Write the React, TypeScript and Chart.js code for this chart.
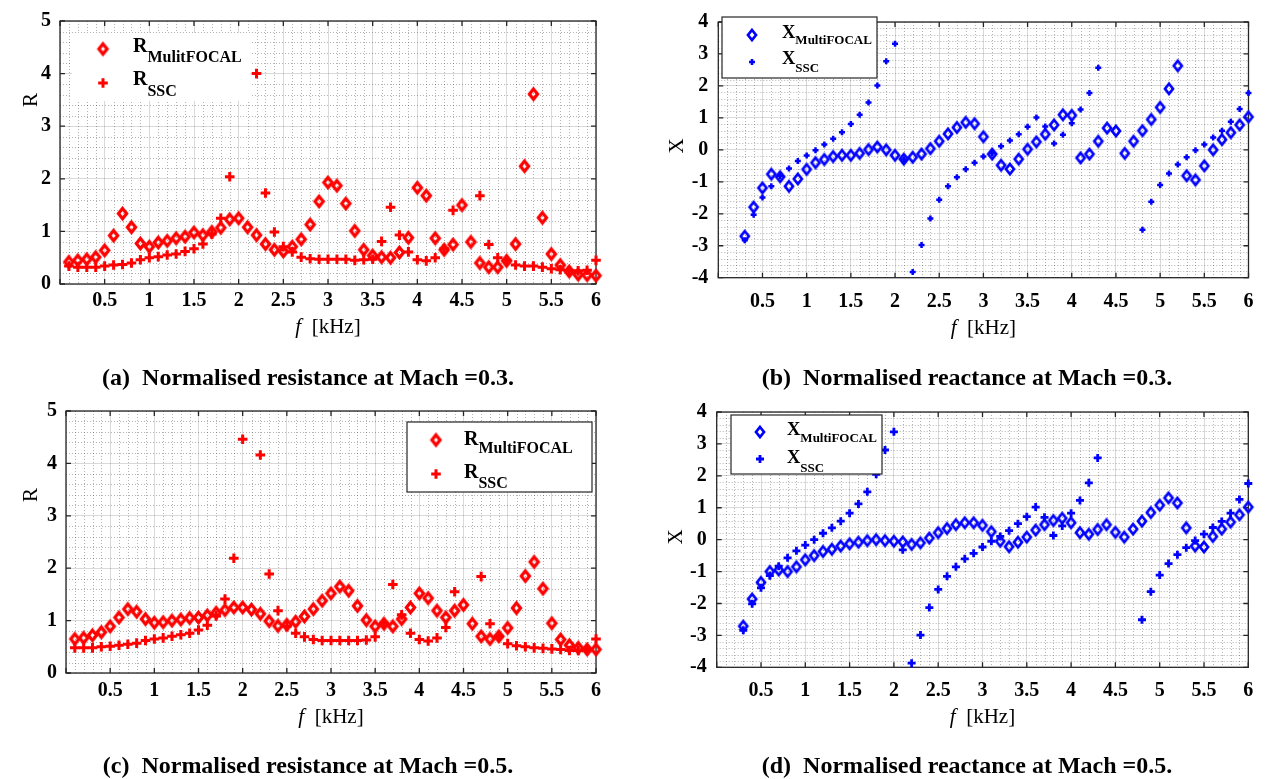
import React, { useEffect, useRef } from 'react';
import { Chart, registerables } from 'chart.js';

Chart.register(...registerables);

const SERIF = "'Liberation Serif', 'Times New Roman', serif";

// ---------- data ----------
const FREQ_R = [
  0.1, 0.2, 0.3, 0.4, 0.5, 0.6, 0.7, 0.8, 0.9, 1.0,
  1.1, 1.2, 1.3, 1.4, 1.5, 1.6, 1.7, 1.8, 1.9, 2.0,
  2.1, 2.2, 2.3, 2.4, 2.5, 2.6, 2.7, 2.8, 2.9, 3.0,
  3.1, 3.2, 3.3, 3.4, 3.5, 3.6, 3.7, 3.8, 3.9, 4.0,
  4.1, 4.2, 4.3, 4.4, 4.5, 4.6, 4.7, 4.8, 4.9, 5.0,
  5.1, 5.2, 5.3, 5.4, 5.5, 5.6, 5.7, 5.8, 5.9, 6.0,
];
const FREQ_X = [
  0.3, 0.4, 0.5, 0.6, 0.7, 0.8, 0.9, 1.0, 1.1, 1.2,
  1.3, 1.4, 1.5, 1.6, 1.7, 1.8, 1.9, 2.0, 2.1, 2.2,
  2.3, 2.4, 2.5, 2.6, 2.7, 2.8, 2.9, 3.0,
  3.1, 3.2, 3.3, 3.4, 3.5, 3.6, 3.7, 3.8, 3.9, 4.0,
  4.1, 4.2, 4.3, 4.4, 4.5, 4.6, 4.7, 4.8, 4.9, 5.0,
  5.1, 5.2, 5.3, 5.4, 5.5, 5.6, 5.7, 5.8, 5.9, 6.0,
];

const R_MULTIFOCAL_M03 = [
  0.42, 0.45, 0.47, 0.51, 0.64, 0.92, 1.34, 1.08, 0.77, 0.71,
  0.79, 0.82, 0.87, 0.90, 0.98, 0.93, 0.99, 1.07, 1.23, 1.25,
  1.08, 0.93, 0.76, 0.65, 0.62, 0.71, 0.85, 1.13, 1.57, 1.93,
  1.87, 1.53, 1.01, 0.65, 0.54, 0.51, 0.50, 0.60, 0.88, 1.83,
  1.68, 0.87, 0.65, 0.75, 1.50, 0.80, 0.40, 0.32, 0.32, 0.44,
  0.76, 2.24, 3.61, 1.26, 0.57, 0.36, 0.24, 0.18, 0.17, 0.16,
];
const R_SSC_M03 = [
  0.34, 0.32, 0.32, 0.32, 0.34, 0.36, 0.37, 0.40, 0.46, 0.50,
  0.52, 0.55, 0.57, 0.62, 0.67, 0.76, 0.95, 1.25, 2.04, null,
  null, 4.00, 1.73, 0.99, 0.71, 0.61, 0.51, 0.48, 0.47, 0.47,
  0.47, 0.47, 0.45, 0.46, 0.47, 0.81, 1.46, 0.93, 0.61, 0.46,
  0.44, 0.50, 0.67, 1.40, null, null, 1.68, 0.75, 0.50, 0.45,
  0.36, 0.34, 0.34, 0.32, 0.29, 0.27, 0.25, 0.25, 0.26, 0.45,
];
const X_MULTIFOCAL_M03 = [
  -2.70, -1.79, -1.19, -0.76, -0.84, -1.14, -0.91, -0.61, -0.40, -0.30,
  -0.21, -0.17, -0.17, -0.11, 0.01, 0.09, 0.00, -0.17, -0.29, -0.23,
  -0.13, 0.04, 0.27, 0.50, 0.70, 0.86, 0.82, 0.41,
  -0.13, -0.48, -0.60, -0.29, 0.02, 0.25, 0.49, 0.78, 1.10, 1.08,
  -0.25, -0.13, 0.27, 0.68, 0.59, -0.11, 0.27, 0.60, 0.95, 1.33,
  1.91, 2.63, -0.81, -0.94, -0.50, 0.00, 0.32, 0.54, 0.78, 1.03,
];
const X_SSC_M03 = [
  -2.83, -2.03, -1.49, -1.14, -0.82, -0.58, -0.35, -0.18, -0.01, 0.17,
  0.35, 0.55, 0.81, 1.10, 1.48, 2.01, 2.77, 3.32, -0.30, -3.82,
  -2.98, -2.15, -1.56, -1.14, -0.86, -0.61, -0.40, -0.21,
  -0.11, 0.11, 0.29, 0.49, 0.72, 1.01, 0.73, 0.20, 0.47, 0.83,
  1.26, 1.78, 2.57, null, null, null, null, -2.50, -1.62, -1.10,
  -0.74, -0.46, -0.23, -0.01, 0.17, 0.39, 0.60, 0.88, 1.28, 1.78,
];
const R_MULTIFOCAL_M05 = [
  0.65, 0.67, 0.72, 0.78, 0.89, 1.06, 1.22, 1.17, 1.03, 0.96,
  0.97, 1.00, 1.02, 1.05, 1.06, 1.10, 1.15, 1.20, 1.25, 1.25,
  1.21, 1.13, 0.99, 0.90, 0.92, 0.98, 1.08, 1.22, 1.38, 1.52,
  1.65, 1.57, 1.28, 1.01, 0.89, 0.94, 0.89, 1.03, 1.25, 1.52,
  1.43, 1.19, 1.06, 1.19, 1.30, 0.94, 0.70, 0.65, 0.70, 0.86,
  1.24, 1.85, 2.12, 1.61, 0.95, 0.64, 0.53, 0.48, 0.45, 0.45,
];
const R_SSC_M05 = [
  0.48, 0.48, 0.48, 0.50, 0.51, 0.53, 0.55, 0.57, 0.62, 0.65,
  0.67, 0.70, 0.73, 0.76, 0.82, 0.91, 1.09, 1.41, 2.19, 4.46,
  null, 4.16, 1.89, 1.19, 0.89, 0.76, 0.69, 0.64, 0.62, 0.62,
  0.62, 0.62, 0.62, 0.63, 0.69, 0.95, 1.69, 1.11, 0.76, 0.64,
  0.61, 0.67, 0.87, 1.55, null, null, 1.84, 0.94, 0.70, 0.56,
  0.52, 0.50, 0.48, 0.47, 0.46, 0.45, 0.43, 0.43, 0.45, 0.65,
];
const X_MULTIFOCAL_M05 = [
  -2.71, -1.86, -1.34, -1.00, -0.95, -1.00, -0.85, -0.63, -0.50, -0.37,
  -0.30, -0.20, -0.13, -0.08, -0.03, 0.00, -0.03, -0.05, -0.07, -0.15,
  -0.10, 0.05, 0.22, 0.35, 0.47, 0.53, 0.53, 0.45,
  0.25, -0.05, -0.22, -0.08, 0.08, 0.30, 0.47, 0.60, 0.67, 0.53,
  0.22, 0.17, 0.32, 0.47, 0.23, 0.08, 0.33, 0.58, 0.85, 1.08,
  1.31, 1.15, 0.37, -0.20, -0.23, 0.10, 0.33, 0.55, 0.78, 1.02,
];
const X_SSC_M05 = [
  -2.84, -2.01, -1.51, -1.13, -0.83, -0.57, -0.35, -0.17, 0.00, 0.20,
  0.37, 0.58, 0.83, 1.12, 1.50, 2.05, 2.81, 3.38, -0.32, -3.87,
  -2.99, -2.13, -1.56, -1.15, -0.85, -0.60, -0.43, -0.23,
  -0.05, 0.10, 0.28, 0.50, 0.72, 1.02, 0.70, 0.13, 0.43, 0.83,
  1.23, 1.78, 2.56, null, null, null, null, -2.51, -1.63, -1.11,
  -0.75, -0.47, -0.25, -0.03, 0.17, 0.38, 0.57, 0.83, 1.26, 1.76,
];

const F_TICKS = [0, 0.5, 1, 1.5, 2, 2.5, 3, 3.5, 4, 4.5, 5, 5.5, 6];
const R_TICKS = [0, 1, 2, 3, 4, 5];
const X_TICKS = [-4, -3, -2, -1, 0, 1, 2, 3, 4];

// ---------- panel layout ----------
type Box = { left: number; top: number; width: number; height: number };
type Area = { left: number; right: number; top: number; bottom: number };
type LegendItem = { kind: 'd' | 'p'; mx: number; my: number; main: string; sub: string; tx: number; base: number; subBase: number };
type Panel = {
  key: string;
  canvas: Box;
  area: Area;
  yTicks: number[];
  yMinor: number;
  color: string;
  freq: number[];
  diamond: (number | null)[];
  plus: (number | null)[];
  dLabel: string;
  pLabel: string;
  dHW: number; dHH: number; dBW: number; pR: number; pBW: number;
  xPad: number; yPad: number;
  yTitle: string; yTitleX: number; yTitleY: number;
  xTitleY: number;
  legendBox: { x: number; y: number; w: number; h: number; border: boolean };
  legendMain: number; legendSub: number;
  legendItems: LegendItem[];
  caption: string; captionX: number; captionY: number;
};

const PANELS: Panel[] = [
  {
    key: 'a',
    canvas: { left: 0, top: 0, width: 633, height: 345 },
    area: { left: 60, right: 596, top: 16.5, bottom: 284 },
    yTicks: R_TICKS, yMinor: 0.2, color: '#ff0000',
    freq: FREQ_R, diamond: R_MULTIFOCAL_M03, plus: R_SSC_M03,
    dLabel: 'R MulitFOCAL', pLabel: 'R SSC',
    dHW: 4.1, dHH: 5.1, dBW: 3.2, pR: 4.8, pBW: 3,
    xPad: 5, yPad: 9,
    yTitle: 'R', yTitleX: 31, yTitleY: 100, xTitleY: 327,
    legendBox: { x: 72, y: 33, w: 178, h: 68, border: false },
    legendMain: 20, legendSub: 16,
    legendItems: [
      { kind: 'd', mx: 103, my: 49, main: 'R', sub: 'MulitFOCAL', tx: 133, base: 52, subBase: 62 },
      { kind: 'p', mx: 103, my: 83, main: 'R', sub: 'SSC', tx: 133, base: 85, subBase: 96 },
    ],
    caption: '(a)  Normalised resistance at Mach =0.3.', captionX: 308, captionY: 377,
  },
  {
    key: 'b',
    canvas: { left: 633, top: 0, width: 634, height: 345 },
    area: { left: 718.3, right: 1248.5, top: 13.5, bottom: 277.7 },
    yTicks: X_TICKS, yMinor: 0.2, color: '#0000ff',
    freq: FREQ_X, diamond: X_MULTIFOCAL_M03, plus: X_SSC_M03,
    dLabel: 'X MultiFOCAL', pLabel: 'X SSC',
    dHW: 4.0, dHH: 5.0, dBW: 2.7, pR: 3, pBW: 2.5,
    xPad: 12, yPad: 10,
    yTitle: 'X', yTitleX: 677, yTitleY: 146, xTitleY: 328,
    legendBox: { x: 722, y: 17, w: 155, h: 61, border: true },
    legendMain: 18.5, legendSub: 13,
    legendItems: [
      { kind: 'd', mx: 752, my: 35, main: 'X', sub: 'MultiFOCAL', tx: 782, base: 37.5, subBase: 43.5 },
      { kind: 'p', mx: 752, my: 62, main: 'X', sub: 'SSC', tx: 782, base: 63.5, subBase: 71.5 },
    ],
    caption: '(b)  Normalised reactance at Mach =0.3.', captionX: 967, captionY: 377,
  },
  {
    key: 'c',
    canvas: { left: 0, top: 390, width: 633, height: 389 },
    area: { left: 66, right: 596, top: 408, bottom: 673 },
    yTicks: R_TICKS, yMinor: 0.2, color: '#ff0000',
    freq: FREQ_R, diamond: R_MULTIFOCAL_M05, plus: R_SSC_M05,
    dLabel: 'R MultiFOCAL', pLabel: 'R SSC',
    dHW: 4.1, dHH: 5.1, dBW: 3.2, pR: 4.8, pBW: 3,
    xPad: 6, yPad: 9,
    yTitle: 'R', yTitleX: 31, yTitleY: 495, xTitleY: 717,
    legendBox: { x: 407, y: 422, w: 185, h: 70, border: true },
    legendMain: 20, legendSub: 16,
    legendItems: [
      { kind: 'd', mx: 436, my: 440, main: 'R', sub: 'MultiFOCAL', tx: 464, base: 445, subBase: 453.3 },
      { kind: 'p', mx: 436, my: 474, main: 'R', sub: 'SSC', tx: 464, base: 478.3, subBase: 488.3 },
    ],
    caption: '(c)  Normalised resistance at Mach =0.5.', captionX: 308, captionY: 765,
  },
  {
    key: 'd',
    canvas: { left: 633, top: 390, width: 634, height: 389 },
    area: { left: 716.7, right: 1248.3, top: 403.3, bottom: 667.3 },
    yTicks: X_TICKS, yMinor: 0.2, color: '#0000ff',
    freq: FREQ_X, diamond: X_MULTIFOCAL_M05, plus: X_SSC_M05,
    dLabel: 'X MultiFOCAL', pLabel: 'X SSC',
    dHW: 4.0, dHH: 5.0, dBW: 2.7, pR: 4, pBW: 2.8,
    xPad: 12, yPad: 10,
    yTitle: 'X', yTitleX: 676, yTitleY: 537, xTitleY: 717,
    legendBox: { x: 731, y: 415, w: 151, h: 59, border: true },
    legendMain: 18.5, legendSub: 13,
    legendItems: [
      { kind: 'd', mx: 760, my: 432, main: 'X', sub: 'MultiFOCAL', tx: 787, base: 435, subBase: 442.3 },
      { kind: 'p', mx: 760, my: 459, main: 'X', sub: 'SSC', tx: 787, base: 462.7, subBase: 471.7 },
    ],
    caption: '(d)  Normalised reactance at Mach =0.5.', captionX: 967, captionY: 765,
  },
];

function toPoints(freq: number[], vals: (number | null)[]) {
  const pts: { x: number; y: number }[] = [];
  freq.forEach((f, i) => {
    const v = vals[i];
    if (v !== null && v !== undefined) pts.push({ x: f, y: v });
  });
  return pts;
}

// tall open diamond marker image (MATLAB 'd' style)
function makeDiamondImage(hw: number, hh: number, lw: number, color: string) {
  const pad = lw * 2 + 2;
  const w = Math.ceil(2 * hw + pad);
  const h = Math.ceil(2 * hh + pad);
  const c = document.createElement('canvas');
  c.width = w;
  c.height = h;
  const g = c.getContext('2d');
  if (g) {
    const cx = w / 2;
    const cy = h / 2;
    g.strokeStyle = color;
    g.lineWidth = lw;
    g.lineJoin = 'miter';
    g.beginPath();
    g.moveTo(cx, cy - hh);
    g.lineTo(cx + hw, cy);
    g.lineTo(cx, cy + hh);
    g.lineTo(cx - hw, cy);
    g.closePath();
    g.stroke();
  }
  return c;
}

function drawCross(ctx: CanvasRenderingContext2D, x: number, y: number, r: number, bw: number, color: string) {
  ctx.save();
  ctx.strokeStyle = color;
  ctx.lineWidth = bw;
  ctx.beginPath();
  ctx.moveTo(x - r, y);
  ctx.lineTo(x + r, y);
  ctx.moveTo(x, y - r);
  ctx.lineTo(x, y + r);
  ctx.stroke();
  ctx.restore();
}

function makeDecor(p: Panel, diamondImg: HTMLCanvasElement) {
  const ox = p.canvas.left;
  const oy = p.canvas.top;
  return {
    id: 'decor_' + p.key,
    beforeDatasetsDraw(chart: any) {
      const { ctx, chartArea: a, scales } = chart;
      const xs = scales.x;
      const ys = scales.y;
      ctx.save();
      // minor dotted grid
      ctx.beginPath();
      ctx.setLineDash([1, 2]);
      ctx.strokeStyle = 'rgba(0,0,0,0.3)';
      ctx.lineWidth = 1;
      for (let k = 1; k < 60; k++) {
        if (k % 5 === 0) continue;
        const px = Math.round(xs.getPixelForValue(k / 10)) + 0.5;
        ctx.moveTo(px, a.top);
        ctx.lineTo(px, a.bottom);
      }
      const y0 = p.yTicks[0];
      const y1 = p.yTicks[p.yTicks.length - 1];
      const n = Math.round((y1 - y0) / p.yMinor);
      for (let k = 1; k < n; k++) {
        const v = y0 + k * p.yMinor;
        if (Math.abs(v - Math.round(v)) < 1e-6) continue;
        const py = Math.round(ys.getPixelForValue(v)) + 0.5;
        ctx.moveTo(a.left, py);
        ctx.lineTo(a.right, py);
      }
      ctx.stroke();
      ctx.setLineDash([]);
      // box
      ctx.strokeStyle = '#262626';
      ctx.lineWidth = 1.3;
      ctx.strokeRect(a.left, a.top, a.right - a.left, a.bottom - a.top);
      // inward ticks
      ctx.beginPath();
      xs.ticks.forEach((t: any) => {
        const px = xs.getPixelForValue(t.value);
        ctx.moveTo(px, a.bottom);
        ctx.lineTo(px, a.bottom - 5);
        ctx.moveTo(px, a.top);
        ctx.lineTo(px, a.top + 5);
      });
      ys.ticks.forEach((t: any) => {
        const py = ys.getPixelForValue(t.value);
        ctx.moveTo(a.left, py);
        ctx.lineTo(a.left + 5, py);
        ctx.moveTo(a.right, py);
        ctx.lineTo(a.right - 5, py);
      });
      ctx.stroke();
      ctx.restore();
    },
    afterDatasetsDraw(chart: any) {
      const { ctx, chartArea: a } = chart;
      ctx.save();
      // legend
      const lb = p.legendBox;
      ctx.fillStyle = '#ffffff';
      ctx.fillRect(lb.x - ox, lb.y - oy, lb.w, lb.h);
      if (lb.border) {
        ctx.strokeStyle = '#262626';
        ctx.lineWidth = 1.2;
        ctx.strokeRect(lb.x - ox, lb.y - oy, lb.w, lb.h);
      }
      p.legendItems.forEach((it) => {
        if (it.kind === 'd') {
          ctx.drawImage(diamondImg, it.mx - ox - diamondImg.width / 2, it.my - oy - diamondImg.height / 2);
        } else {
          drawCross(ctx, it.mx - ox, it.my - oy, p.pR, p.pBW, p.color);
        }
        ctx.fillStyle = '#000000';
        ctx.textAlign = 'left';
        ctx.textBaseline = 'alphabetic';
        ctx.font = `bold ${p.legendMain}px ${SERIF}`;
        ctx.fillText(it.main, it.tx - ox, it.base - oy);
        const w = ctx.measureText(it.main).width;
        ctx.font = `bold ${p.legendSub}px ${SERIF}`;
        ctx.fillText(it.sub, it.tx - ox + w, it.subBase - oy);
      });
      // y title
      ctx.fillStyle = '#000000';
      ctx.save();
      ctx.translate(p.yTitleX - ox, p.yTitleY - oy);
      ctx.rotate(-Math.PI / 2);
      ctx.textAlign = 'center';
      ctx.textBaseline = 'middle';
      ctx.font = `21px ${SERIF}`;
      ctx.fillText(p.yTitle, 0, 0);
      ctx.restore();
      // x title: italic f + [kHz]
      const cx = (a.left + a.right) / 2;
      ctx.textBaseline = 'middle';
      ctx.textAlign = 'left';
      ctx.font = `italic 21px ${SERIF}`;
      const fW = ctx.measureText('f').width;
      ctx.font = `21px ${SERIF}`;
      const restTxt = '  [kHz]';
      const rW = ctx.measureText(restTxt).width;
      const start = cx - (fW + rW) / 2;
      ctx.font = `italic 21px ${SERIF}`;
      ctx.fillText('f', start, p.xTitleY - oy);
      ctx.font = `21px ${SERIF}`;
      ctx.fillText(restTxt, start + fW, p.xTitleY - oy);
      ctx.restore();
    },
  };
}

function PanelChart({ p }: { p: Panel }) {
  const ref = useRef<HTMLCanvasElement | null>(null);
  useEffect(() => {
    const canvas = ref.current;
    if (!canvas) return;
    const diamondImg = makeDiamondImage(p.dHW, p.dHH, p.dBW, p.color);
    const tickFont = { family: SERIF, size: 20, weight: 'bold' as const };
    const chart = new Chart(canvas, {
      type: 'scatter',
      data: {
        datasets: [
          {
            label: p.dLabel,
            data: toPoints(p.freq, p.diamond),
            showLine: false,
            pointStyle: diamondImg,
            pointRadius: 6,
            borderColor: p.color,
            backgroundColor: 'rgba(0,0,0,0)',
            clip: false as any,
            order: 1,
          },
          {
            label: p.pLabel,
            data: toPoints(p.freq, p.plus),
            showLine: false,
            pointStyle: 'cross',
            pointRadius: p.pR,
            pointBorderWidth: p.pBW,
            borderColor: p.color,
            pointBorderColor: p.color,
            backgroundColor: p.color,
            clip: false as any,
            order: 0,
          },
        ],
      },
      options: {
        animation: false,
        responsive: false,
        devicePixelRatio: 1,
        events: [],
        layout: {
          padding: {
            top: p.area.top - p.canvas.top,
            right: p.canvas.left + p.canvas.width - p.area.right,
            left: 0,
            bottom: 0,
          },
        },
        plugins: { legend: { display: false }, tooltip: { enabled: false } },
        scales: {
          x: {
            type: 'linear',
            min: F_TICKS[0],
            max: F_TICKS[F_TICKS.length - 1],
            afterBuildTicks: (s: any) => { s.ticks = F_TICKS.map((v) => ({ value: v })); },
            afterFit: (s: any) => { s.height = p.canvas.top + p.canvas.height - p.area.bottom; },
            ticks: {
              autoSkip: false,
              maxRotation: 0,
              padding: p.xPad,
              color: '#000000',
              font: tickFont,
              callback: (v: any) => (Number(v) === 0 ? '' : String(Number(v))),
            },
            grid: { color: 'rgba(0,0,0,0.15)', lineWidth: 1, drawTicks: false },
            border: { display: false },
          },
          y: {
            type: 'linear',
            min: p.yTicks[0],
            max: p.yTicks[p.yTicks.length - 1],
            afterBuildTicks: (s: any) => { s.ticks = p.yTicks.map((v) => ({ value: v })); },
            afterFit: (s: any) => { s.width = p.area.left - p.canvas.left; },
            ticks: {
              autoSkip: false,
              padding: p.yPad,
              color: '#000000',
              font: tickFont,
              callback: (v: any) => String(Number(v)),
            },
            grid: { color: 'rgba(0,0,0,0.15)', lineWidth: 1, drawTicks: false },
            border: { display: false },
          },
        },
      },
      plugins: [makeDecor(p, diamondImg)],
    } as any);
    return () => chart.destroy();
  }, [p]);
  return (
    <canvas
      ref={ref}
      width={p.canvas.width}
      height={p.canvas.height}
      style={{ position: 'absolute', left: p.canvas.left, top: p.canvas.top, width: p.canvas.width, height: p.canvas.height }}
    />
  );
}

export default function App() {
  return (
    <div style={{ position: 'absolute', left: 0, top: 0, width: 1267, height: 779, background: '#ffffff', overflow: 'hidden' }}>
      {PANELS.map((p) => (
        <PanelChart key={p.key} p={p} />
      ))}
      {PANELS.map((p) => (
        <div
          key={'cap_' + p.key}
          style={{
            position: 'absolute',
            left: p.captionX,
            top: p.captionY - 14,
            transform: 'translateX(-50%)',
            whiteSpace: 'pre',
            fontFamily: SERIF,
            fontWeight: 'bold',
            fontSize: 24,
            lineHeight: '28px',
            color: '#000000',
          }}
        >
          {p.caption}
        </div>
      ))}
    </div>
  );
}
